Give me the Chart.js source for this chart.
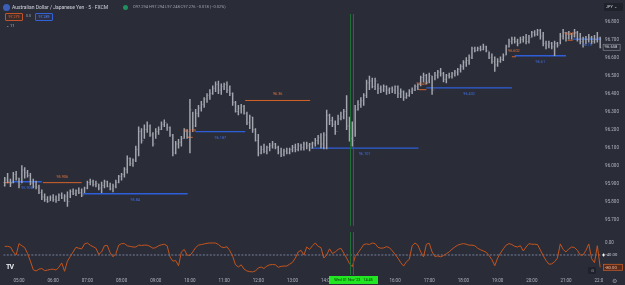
<!DOCTYPE html>
<html>
<head>
<meta charset="utf-8">
<script src="https://cdn.jsdelivr.net/npm/chart.js@4.4.0/dist/chart.umd.min.js"></script>
<style>
html,body{margin:0;padding:0;background:#2a2d38;}
#wrap{position:relative;width:625px;height:285px;overflow:hidden;background:#2a2d38;font-family:Roboto,"Noto Sans",sans-serif;color:#d1d4dc;}
canvas{position:absolute;left:0;}
#main{top:0;}
#osc{top:232px;}
.t{position:absolute;white-space:nowrap;line-height:1;}
</style>
</head>
<body>
<div id="wrap">
  <canvas id="main" width="625" height="232"></canvas>
  <canvas id="osc" width="625" height="53"></canvas>

  <div class="t" style="left:3px;top:4px;width:7px;height:7px;border-radius:50%;background:#3b5fb8;"></div>
  <div class="t" style="left:12px;top:4.5px;font-size:5px;color:#d1d4dc;">Australian Dollar / Japanese Yen · 5 · FXCM</div>
  <div class="t" style="left:123px;top:4.5px;width:5px;height:5px;border-radius:50%;background:#1f8f5f;"></div>
  <div class="t" style="left:133px;top:5px;font-size:4px;color:#9fa3ae;">O97.294 H97.294 L97.248 C97.276 −0.018 (−0.02%)</div>

  <div class="t" style="left:5px;top:13px;width:16px;height:6px;border:0.7px solid #c0532a;border-radius:1px;background:#3a2c2c;font-size:3.6px;color:#e46a3a;text-align:center;line-height:6px;">97.279</div>
  <div class="t" style="left:26px;top:14.5px;font-size:3.6px;color:#9fa3ae;">0.0</div>
  <div class="t" style="left:35px;top:13px;width:16px;height:6px;border:0.7px solid #3561d6;border-radius:1px;background:#2a2f45;font-size:3.6px;color:#5b86ee;text-align:center;line-height:6px;">97.289</div>
  <div class="t" style="left:6px;top:23.5px;font-size:4px;color:#b2b5be;">⌄ 11</div>

  <div class="t" style="left:604px;top:3px;width:19px;height:8px;background:#1f222b;border-radius:1px;font-size:3.8px;color:#d1d4dc;line-height:8px;padding-left:2px;box-sizing:border-box;">JPY ⌄</div>

  <div class="t" style="left:6px;top:264px;font-size:7px;font-weight:bold;color:#e6e8ee;letter-spacing:-1px;">TV</div>
  <div class="t" style="left:329px;top:276px;width:49px;height:8px;background:#22e622;color:#0c2a0c;font-size:3.8px;line-height:8px;text-align:center;">Wed 01 Nov '23 &nbsp; 14:45</div>
  <div class="t" style="left:588px;top:266.5px;width:8px;height:7px;background:#1f222b;border-radius:1px;font-size:4px;color:#b2b5be;line-height:7px;text-align:center;">⊙</div>
  <div class="t" style="left:603px;top:275.5px;width:22px;height:9.5px;background:#2a2d38;font-size:6px;color:#9598a1;line-height:9.5px;text-align:center;">⚙</div>
</div>
<script>
// AUD/JPY 5 minute bars, 04:35 -> 22:00
const startTime = "04:35";
const barMinutes = 5;

const opens = [95.89,95.92,95.91,95.905,95.95,95.93,95.895,95.975,95.96,95.945,
95.90,95.885,95.88,95.85,95.825,95.81,95.80,95.82,95.81,95.805,
95.835,95.82,95.83,95.80,95.855,95.845,95.86,95.85,95.835,95.875,
95.905,95.91,95.895,95.90,95.875,95.89,95.91,95.885,95.87,95.885,
95.905,95.94,95.95,95.98,96.04,96.01,96.03,96.09,96.19,96.14,
96.20,96.22,96.17,96.12,96.19,96.20,96.23,96.24,96.21,96.17,
96.07,96.12,96.13,96.15,96.19,96.16,96.31,96.22,96.29,96.32,
96.34,96.37,96.39,96.40,96.43,96.45,96.42,96.44,96.45,96.42,
96.40,96.35,96.30,96.32,96.33,96.29,96.24,96.27,96.20,96.14,
96.07,96.09,96.08,96.10,96.11,96.12,96.10,96.075,96.06,96.08,
96.07,96.09,96.10,96.09,96.11,96.10,96.12,96.11,96.12,96.125,
96.14,96.155,96.12,96.17,96.28,96.25,96.23,96.19,96.26,96.27,
96.30,96.22,96.15,96.14,96.31,96.34,96.36,96.39,96.46,96.47,
96.44,96.47,96.43,96.42,96.44,96.42,96.43,96.42,96.44,96.40,
96.41,96.38,96.39,96.41,96.42,96.44,96.45,96.49,96.50,96.47,
96.50,96.42,96.50,96.52,96.51,96.48,96.50,96.495,96.51,96.52,
96.535,96.55,96.575,96.585,96.60,96.65,96.64,96.65,96.645,96.66,
96.64,96.60,96.58,96.56,96.58,96.59,96.61,96.66,96.69,96.70,
96.69,96.68,96.70,96.71,96.69,96.71,96.74,96.73,96.75,96.72,
96.68,96.67,96.68,96.66,96.68,96.67,96.72,96.74,96.71,96.73,
96.72,96.74,96.70,96.69,96.67,96.70,96.71,96.69,96.70,96.71];

const highs = [95.935,95.957,95.925,95.962,95.968,95.930,96.000,95.989,95.973,95.957,
95.925,95.914,95.892,95.865,95.843,95.827,95.832,95.838,95.832,95.843,
95.849,95.838,95.854,95.865,95.870,95.865,95.876,95.870,95.881,95.914,
95.925,95.919,95.914,95.897,95.908,95.919,95.914,95.903,95.897,95.919,
95.946,95.957,95.989,96.054,96.043,96.038,96.108,96.216,96.205,96.227,
96.243,96.227,96.184,96.205,96.216,96.243,96.254,96.232,96.216,96.173,
96.135,96.146,96.162,96.205,96.200,96.368,96.297,96.313,96.335,96.357,
96.378,96.400,96.422,96.443,96.465,96.470,96.454,96.459,96.465,96.443,
96.405,96.357,96.335,96.341,96.335,96.297,96.281,96.270,96.205,96.173,
96.108,96.119,96.108,96.124,96.135,96.124,96.108,96.097,96.092,96.097,
96.097,96.113,96.119,96.124,96.119,96.130,96.130,96.124,96.130,96.151,
96.168,96.178,96.184,96.308,96.286,96.270,96.249,96.281,96.297,96.313,
96.389,96.270,96.243,96.335,96.362,96.378,96.400,96.476,96.497,96.486,
96.486,96.454,96.443,96.449,96.443,96.432,96.438,96.443,96.443,96.427,
96.416,96.405,96.422,96.432,96.449,96.454,96.497,96.514,96.508,96.514,
96.497,96.519,96.530,96.541,96.519,96.508,96.514,96.519,96.530,96.541,
96.562,96.584,96.600,96.616,96.659,96.659,96.659,96.665,96.676,96.665,
96.632,96.622,96.605,96.595,96.605,96.622,96.670,96.703,96.714,96.714,
96.703,96.714,96.719,96.730,96.724,96.746,96.751,96.757,96.757,96.741,
96.692,96.692,96.686,96.692,96.686,96.735,96.757,96.741,96.746,96.735,
96.757,96.746,96.735,96.714,96.719,96.730,96.719,96.724,96.741,96.714];

const lows = [95.886,95.903,95.882,95.903,95.919,95.876,95.903,95.930,95.935,95.892,
95.876,95.870,95.843,95.811,95.800,95.795,95.805,95.800,95.795,95.805,
95.816,95.800,95.773,95.822,95.838,95.832,95.843,95.827,95.849,95.870,
95.892,95.886,95.881,95.865,95.849,95.876,95.881,95.865,95.854,95.876,
95.903,95.919,95.935,95.957,96.000,95.995,96.022,96.054,96.124,96.151,
96.184,96.162,96.108,96.151,96.173,96.200,96.216,96.195,96.162,96.054,
96.065,96.097,96.108,96.151,96.151,96.070,96.189,96.216,96.270,96.303,
96.324,96.351,96.368,96.395,96.411,96.400,96.395,96.422,96.405,96.389,
96.335,96.297,96.281,96.292,96.286,96.227,96.205,96.184,96.135,96.054,
96.065,96.070,96.065,96.081,96.097,96.092,96.065,96.049,96.054,96.065,
96.065,96.076,96.076,96.081,96.086,96.086,96.092,96.081,96.097,96.108,
96.119,96.097,96.092,96.092,96.227,96.216,96.173,96.227,96.254,96.259,
96.200,96.135,96.108,96.162,96.308,96.324,96.335,96.378,96.422,96.432,
96.422,96.400,96.405,96.411,96.395,96.400,96.405,96.400,96.378,96.378,
96.362,96.373,96.384,96.400,96.416,96.422,96.443,96.465,96.454,96.459,
96.395,96.476,96.486,96.497,96.465,96.459,96.486,96.486,96.497,96.503,
96.519,96.535,96.551,96.562,96.595,96.632,96.638,96.638,96.643,96.632,
96.595,96.568,96.524,96.551,96.573,96.584,96.616,96.659,96.676,96.681,
96.665,96.681,96.686,96.676,96.681,96.714,96.719,96.724,96.703,96.665,
96.649,96.654,96.649,96.611,96.659,96.676,96.703,96.692,96.703,96.703,
96.714,96.692,96.676,96.659,96.676,96.686,96.676,96.681,96.686,96.654];

const closes = [95.925,95.91,95.90,95.95,95.93,95.89,95.975,95.96,95.945,95.90,
95.885,95.88,95.85,95.825,95.81,95.80,95.82,95.81,95.805,95.835,
95.82,95.83,95.80,95.855,95.845,95.86,95.85,95.835,95.875,95.905,
95.91,95.895,95.90,95.875,95.89,95.91,95.885,95.87,95.885,95.905,
95.94,95.95,95.98,96.04,96.01,96.03,96.09,96.19,96.14,96.20,
96.22,96.17,96.12,96.19,96.20,96.23,96.24,96.21,96.17,96.07,
96.12,96.13,96.15,96.19,96.16,96.31,96.22,96.29,96.32,96.34,
96.37,96.39,96.40,96.43,96.45,96.42,96.44,96.45,96.42,96.40,
96.35,96.30,96.32,96.33,96.29,96.24,96.27,96.20,96.14,96.07,
96.09,96.08,96.10,96.11,96.12,96.10,96.075,96.06,96.08,96.07,
96.09,96.10,96.09,96.11,96.10,96.12,96.11,96.12,96.125,96.14,
96.155,96.12,96.17,96.28,96.25,96.23,96.19,96.26,96.27,96.30,
96.22,96.15,96.14,96.31,96.34,96.36,96.39,96.46,96.47,96.44,
96.47,96.43,96.42,96.44,96.42,96.43,96.42,96.44,96.40,96.41,
96.38,96.39,96.41,96.42,96.44,96.45,96.49,96.50,96.47,96.50,
96.42,96.50,96.52,96.51,96.48,96.50,96.495,96.51,96.52,96.535,
96.55,96.575,96.585,96.60,96.65,96.64,96.65,96.645,96.66,96.64,
96.60,96.58,96.56,96.58,96.59,96.61,96.66,96.69,96.70,96.69,
96.68,96.70,96.71,96.69,96.71,96.74,96.73,96.75,96.72,96.68,
96.67,96.68,96.66,96.68,96.67,96.72,96.74,96.71,96.73,96.72,
96.74,96.70,96.69,96.67,96.70,96.71,96.69,96.70,96.71,96.658];

// oscillator (Williams %R style, 0 .. -100)
const osc = [-12,-12,-14,-30,-40,-3,-10,-16,-35,-60,
-88,-92,-86,-84,-91,-89,-87,-86,-89,-80,
-66,-93,-60,-45,-30,-15,-18,-20,-4,-1,
-8,-13,-18,-38,-30,-10,-9,-33,-46,-36,
-8,-3,-3,-10,-12,-14,-14,-8,-9,-8,
-8,-12,-18,-16,-10,-7,-5,-10,-46,-60,
-58,-75,-30,-22,-40,-42,-30,-16,-8,-6,
-4,-2,-1,-1,-1,-6,-14,-16,-13,-26,
-44,-72,-79,-72,-86,-92,-94,-95,-92,-82,
-79,-84,-76,-72,-71,-72,-80,-77,-76,-76,
-70,-64,-50,-30,-25,-40,-14,-22,-10,-1,
-12,-16,-50,-40,-20,-35,-30,-22,-18,-34,
-50,-68,-78,-45,-33,-20,-6,-4,-6,-1,
-3,-15,-18,-17,-13,-16,-26,-38,-50,-65,
-76,-62,-54,-10,-1,-8,-30,-46,-5,-2,
-30,-45,-43,-46,-42,-36,-30,-21,-14,-8,
-5,-3,-5,-8,-8,-10,-18,-23,-27,-31,
-42,-55,-75,-50,-34,-20,-8,-3,-6,-12,
-14,-10,-27,-14,-3,-5,-5,-6,-24,-42,
-58,-70,-69,-62,-50,-4,-22,-30,-20,-14,
-16,-25,-40,-40,-25,-4,-52,-65,-10,-80];

// level segments drawn on the price pane
const orangeFrom   = ["04:32","05:42","09:55","11:37","16:41","19:25","21:03"];
const orangeTo     = ["04:48","06:50","10:05","13:31","16:55","19:32","21:12"];
const orangePrices = [95.905,95.905,96.157,96.362,96.422,96.605,96.697];
const orangeLabels = ["","95.906","96.179","96.36","96.457","96.602","96.697"];

const blueFrom   = ["04:48","06:52","10:10","13:32","16:55","19:30","21:12"];
const blueTo     = ["05:40","09:56","11:37","16:41","19:25","21:00","22:02"];
const bluePrices = [95.910,95.843,96.189,96.097,96.432,96.611,96.703];
const blueLabels = ["95.908","95.84","96.187","96.101","96.432","96.61","96.70"];

const priceTicks = [95.7,95.8,95.9,96.0,96.1,96.2,96.3,96.4,96.5,96.6,96.7,96.8];
const hourTicks = [5,6,7,8,9,10,11,12,13,14,15,16,17,18,19,20,21,22];
const lastPrice = 96.658;
const crossLevel = -40;
const markerTime = "14:45";

const bg = "#2a2d38";
const barColor = "#a4a7af";
const orange = "#d5622b";
const blue = "#2f5fd8";
const axisText = "#b2b5be";
const font = { family: "Roboto, 'Noto Sans', sans-serif", size: 4.5 };

const toHours = s => { const [h, m] = s.split(":").map(Number); return h + m / 60; };
const t0 = toHours(startTime);
const barTimes = opens.map((_, i) => t0 + i * barMinutes / 60);
const xMin = t0 - barMinutes / 120;
const xMax = barTimes[barTimes.length - 1] + barMinutes / 120;
const padLeft = 3.33;
const axisW = 23.4;

function segData(from, to, price) {
  return [{ x: toHours(from), y: price }, { x: toHours(to), y: price }];
}

const segSets = [];
orangeFrom.forEach((f, i) => segSets.push({
  type: "line", data: segData(f, orangeTo[i], orangePrices[i]),
  borderColor: orange, borderWidth: 1, pointRadius: 0, segLabel: orangeLabels[i], segColor: "#e2733c", labelDy: -6
}));
blueFrom.forEach((f, i) => segSets.push({
  type: "line", data: segData(f, blueTo[i], bluePrices[i]),
  borderColor: blue, borderWidth: 1.4, pointRadius: 0, segLabel: blueLabels[i], segColor: "#3f6fe6", labelDy: 6
}));

const markerLine = {
  id: "markerLine",
  afterDatasetsDraw(chart) {
    const x = Math.round(chart.scales.x.getPixelForValue(toHours(markerTime)));
    const { bottom } = chart.chartArea;
    const top = chart.canvas.id === "main" ? 14 : 0;
    const ctx = chart.ctx;
    ctx.save();
    ctx.strokeStyle = "#1f6e34";
    ctx.lineWidth = 1;
    ctx.beginPath();
    ctx.moveTo(x - 1.5, top);
    ctx.lineTo(x - 1.5, bottom);
    ctx.moveTo(x + 1.5, top);
    ctx.lineTo(x + 1.5, bottom);
    ctx.stroke();
    ctx.restore();
  }
};

const ohlcTicks = {
  id: "ohlcTicks",
  afterDatasetsDraw(chart) {
    const meta = chart.getDatasetMeta(0);
    const y = chart.scales.y;
    const ctx = chart.ctx;
    ctx.save();
    ctx.fillStyle = "rgba(164,167,175,0.45)";
    meta.data.forEach((el, i) => {
      ctx.fillRect(el.x - 1.3, y.getPixelForValue(opens[i]) - 0.4, 0.9, 0.8);
      ctx.fillRect(el.x + 0.4, y.getPixelForValue(closes[i]) - 0.4, 0.9, 0.8);
    });
    // segment labels
    ctx.font = "3.8px Roboto, sans-serif";
    ctx.textAlign = "center";
    ctx.textBaseline = "middle";
    chart.data.datasets.forEach((ds, k) => {
      if (!ds.segLabel) return;
      const pts = chart.getDatasetMeta(k).data;
      const mx = (pts[0].x + pts[1].x) / 2;
      ctx.fillStyle = ds.segColor;
      ctx.fillText(ds.segLabel, mx, pts[0].y + ds.labelDy);
    });
    // last price box
    const ly = y.getPixelForValue(lastPrice);
    const bx = chart.chartArea.right + 1.5;
    ctx.fillStyle = bg;
    ctx.fillRect(bx, ly - 3, 17, 6);
    ctx.strokeStyle = "#8d919b";
    ctx.lineWidth = 0.6;
    ctx.strokeRect(bx, ly - 3, 17, 6);
    ctx.fillStyle = "#d1d4dc";
    ctx.textAlign = "left";
    ctx.font = "4.2px Roboto, sans-serif";
    ctx.fillText(lastPrice.toFixed(3), bx + 1.5, ly + 0.2);
    ctx.restore();
  }
};

const oscMarks = {
  id: "oscMarks",
  afterDatasetsDraw(chart) {
    const y = chart.scales.y;
    const ctx = chart.ctx;
    const { right } = chart.chartArea;
    ctx.save();
    ctx.font = "4.2px Roboto, sans-serif";
    ctx.textBaseline = "middle";
    ctx.textAlign = "left";
    const cy = y.getPixelForValue(crossLevel);
    ctx.fillStyle = "#c9ccd4";
    ctx.fillText(crossLevel.toFixed(2), right + 4, cy);
    ctx.fillStyle = "#ffffff";
    ctx.fillRect(right + 0.5, cy - 0.5, 3, 1);
    ctx.fillRect(right + 1.5, cy - 1.5, 1, 3);
    const last = osc[osc.length - 1];
    const ly = y.getPixelForValue(last);
    ctx.fillStyle = "#5a2a18";
    ctx.fillRect(right + 2, ly - 3, 19, 6);
    ctx.strokeStyle = orange;
    ctx.lineWidth = 0.7;
    ctx.strokeRect(right + 2, ly - 3, 19, 6);
    ctx.fillStyle = "#f0c0a8";
    ctx.fillText(last.toFixed(2), right + 3.5, ly + 0.2);
    ctx.restore();
  }
};

Chart.defaults.animation = false;

new Chart(document.getElementById("main"), {
  data: {
    datasets: [
      {
        type: "bar",
        data: barTimes.map((t, i) => ({ x: t, y: [lows[i], highs[i]] })),
        backgroundColor: barColor,
        barThickness: 0.8,
        borderWidth: 0
      },
      ...segSets
    ]
  },
  options: {
    responsive: false,
    layout: { padding: { left: padLeft, top: 12, right: 0, bottom: 0 } },
    plugins: { legend: { display: false }, tooltip: { enabled: false } },
    scales: {
      x: { type: "linear", min: xMin, max: xMax, offset: false, grid: { offset: false }, display: false },
      y: {
        position: "right",
        min: 95.665, max: 96.854,
        grid: { display: false, drawTicks: false },
        border: { display: false },
        afterFit(s) { s.width = axisW; },
        afterBuildTicks(s) { s.ticks = priceTicks.map(v => ({ value: v })); },
        ticks: { color: axisText, font, padding: 3.5, callback: v => v.toFixed(3) }
      }
    }
  },
  plugins: [ohlcTicks, markerLine]
});

new Chart(document.getElementById("osc"), {
  type: "line",
  data: {
    datasets: [
      {
        data: barTimes.map((t, i) => ({ x: t, y: osc[i] })),
        borderColor: "#c4541d",
        borderWidth: 1,
        pointRadius: 0,
        tension: 0
      },
      {
        data: [{ x: xMin, y: crossLevel }, { x: xMax, y: crossLevel }],
        borderColor: "#8c94b4",
        borderWidth: 0.8,
        borderDash: [2, 1.5],
        pointRadius: 0
      }
    ]
  },
  options: {
    responsive: false,
    layout: { padding: { left: padLeft, top: 2, right: 0, bottom: 0 } },
    plugins: { legend: { display: false }, tooltip: { enabled: false } },
    scales: {
      x: {
        type: "linear", min: xMin, max: xMax,
        grid: { display: false, drawTicks: false },
        border: { display: false },
        afterFit(s) { s.height = 10; },
        afterBuildTicks(s) { s.ticks = hourTicks.map(v => ({ value: v })); },
        ticks: {
          color: axisText, font, padding: 3, maxRotation: 0, autoSkip: false,
          callback: v => String(v).padStart(2, "0") + ":00"
        }
      },
      y: {
        position: "right",
        min: -105.1, max: 14.6,
        grid: { display: false, drawTicks: false },
        border: { display: false },
        afterFit(s) { s.width = axisW; },
        afterBuildTicks(s) { s.ticks = [{ value: 0 }]; },
        ticks: { color: axisText, font, padding: 3.5, callback: v => v.toFixed(2) }
      }
    }
  },
  plugins: [oscMarks, markerLine]
});
</script>
</body>
</html>
